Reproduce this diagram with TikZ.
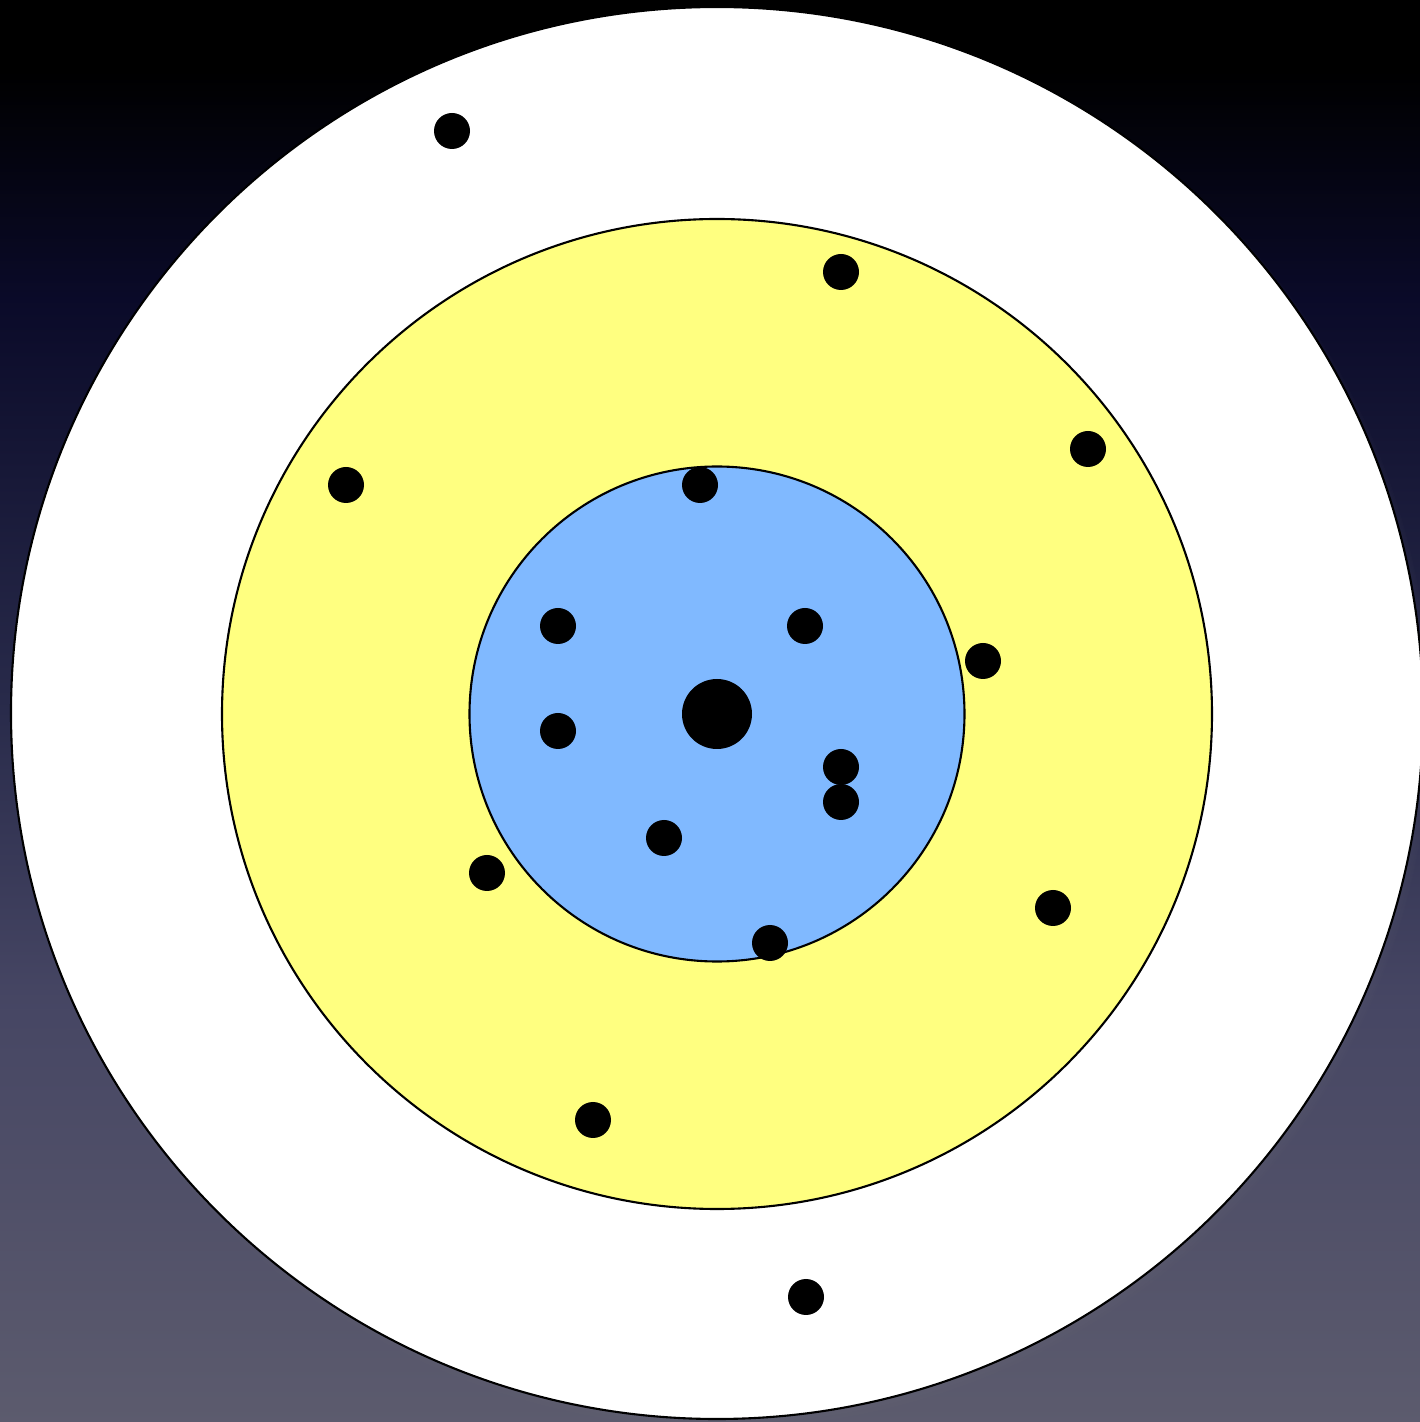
\documentclass[tikz,border=0pt]{standalone}
\usepackage{tikz}
\usetikzlibrary{shadows}
\definecolor{zonemid}{RGB}{255,255,128}
\definecolor{zonein}{RGB}{128,185,255}
\pgfdeclareverticalshading{night}{100bp}{%
  rgb(0bp)=(0.36,0.357,0.43);
  rgb(25bp)=(0.36,0.357,0.43);
  rgb(39.8bp)=(0.275,0.275,0.39);
  rgb(50.4bp)=(0.157,0.165,0.29);
  rgb(64.5bp)=(0.04,0.04,0.16);
  rgb(72.5bp)=(0,0,0);
  rgb(100bp)=(0,0,0)}
\tikzstyle{ring}=[circle,draw=black,line width=0.6pt,inner sep=0pt]
\tikzstyle{hole}=[circle,fill=black,minimum size=0.36cm,inner sep=0pt]

\begin{document}
\begin{tikzpicture}
  \useasboundingbox (0,0) rectangle (14.2,14.22);
  \shade[shading=night] (0,0) rectangle (14.2,14.22);
  % target rings
  \node[ring,fill=white,minimum size=14.12cm,
        circular drop shadow={shadow xshift=0.4mm,shadow yshift=-0.6mm,shadow scale=1.005,opacity=0.7}]
        (outer) at (7.17,7.09) {};
  \node[ring,fill=zonemid,minimum size=9.90cm] (middle) at (7.17,7.08) {};
  \node[ring,fill=zonein,minimum size=4.95cm] (inner) at (7.17,7.08) {};
  % shots
  \node[hole,minimum size=0.70cm] (bull) at (7.17,7.08) {};
  \node[hole] (h1) at (4.52,12.91) {};
  \node[hole] (h2) at (8.41,11.50) {};
  \node[hole] (h3) at (10.88,9.73) {};
  \node[hole] (h4) at (3.46,9.37) {};
  \node[hole] (h5) at (7.00,9.37) {};
  \node[hole] (h6) at (5.58,7.96) {};
  \node[hole] (h7) at (8.05,7.96) {};
  \node[hole] (h8) at (9.83,7.61) {};
  \node[hole] (h9) at (5.58,6.91) {};
  \node[hole] (h10) at (8.41,6.55) {};
  \node[hole] (h11) at (8.41,6.20) {};
  \node[hole] (h12) at (6.64,5.84) {};
  \node[hole] (h13) at (4.87,5.49) {};
  \node[hole] (h14) at (10.53,5.14) {};
  \node[hole] (h15) at (7.70,4.79) {};
  \node[hole] (h16) at (5.93,3.02) {};
  \node[hole] (h17) at (8.06,1.25) {};
\end{tikzpicture}
\end{document}
